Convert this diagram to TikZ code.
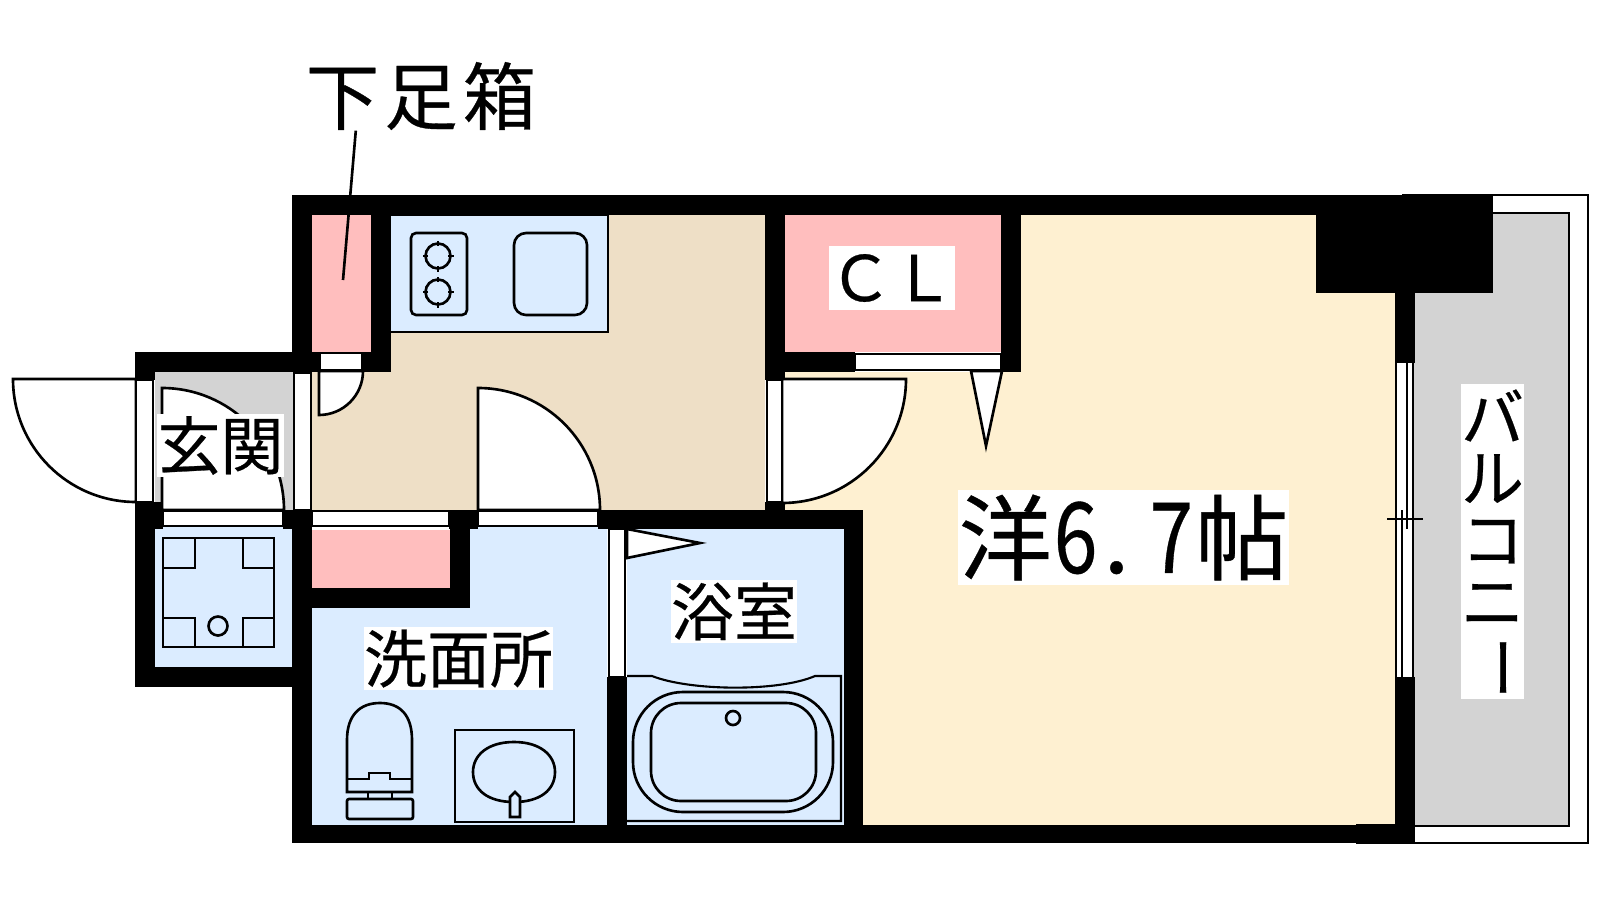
\documentclass[tikz,border=0pt]{standalone}
\usepackage{fontspec}
\usepackage{graphicx}
\usetikzlibrary{calc}
\newfontfamily\jpfont[FakeBold=0.4]{Noto Sans CJK JP}
\definecolor{roomblue}{HTML}{DBECFF}
\definecolor{closetpink}{HTML}{FFBEBE}
\definecolor{kitchentan}{HTML}{EEDFC6}
\definecolor{roomcream}{HTML}{FEF0D1}
\definecolor{floorgray}{HTML}{D3D3D3}
\tikzset{
	wallfill/.style={fill=black},
	fixture/.style={draw=black,line width=0.75pt},
	doorleaf/.style={draw=black,fill=white,line width=0.75pt},
	labelbox/.style={fill=white,inner sep=0pt,font=\jpfont\fontsize{17.9}{18}\selectfont}
}

\begin{document}
\begin{tikzpicture}[x=0.01cm,y=-0.01cm]
		\useasboundingbox (0,0) rectangle (1600,900);
		
		% Balcony
		\draw[line width=0.75pt,fill=white] (1403,195) rectangle (1588,843);
		\draw[line width=0.75pt,fill=floorgray] (1400,213) rectangle (1569,826);
		
		% Floors
		\fill[roomcream] (785,372) -- (1021,372) -- (1021,214) -- (1395,214) -- (1395,825) -- (863,825) -- (863,510) -- (785,510) -- cycle;
		\fill[kitchentan] (312,372) -- (391,372) -- (391,214) -- (765,214) -- (765,510) -- (312,510) -- cycle;
		\fill[floorgray] (155,372) rectangle (294,510);
		\fill[roomblue] (155,527) rectangle (292,667);
		\fill[roomblue] (312,608) -- (470,608) -- (470,527) -- (607,527) -- (607,825) -- (312,825) -- cycle;
		\fill[roomblue] (627,529) rectangle (844,825);
		\fill[closetpink] (312,214) rectangle (371,352);
		\fill[closetpink] (785,214) rectangle (1001,352);
		\fill[closetpink] (312,530) rectangle (450,588);
		
		% Kitchen counter
		\draw[fixture,fill=roomblue] (391,215) -- (608,215) -- (608,332) -- (391,332);
		\draw[fixture,rounded corners=0.05cm] (411,233) rectangle (467,315);
		\draw[fixture,rounded corners=0.12cm] (514,233) rectangle (587,315);
		\foreach \cy in {256,292}{
			\draw[fixture] (438,\cy) circle (12.5);
			\foreach \ang in {0,90,180,270}
				\draw[fixture] ($(438,\cy)+(\ang:10)$) -- ($(438,\cy)+(\ang:15.5)$);
		}
		
		% Washer pan
		\draw[fixture] (163,538) rectangle (274,647);
		\draw[fixture] (163,568) -| (195,538);
		\draw[fixture] (243,538) |- (274,568);
		\draw[fixture] (163,618) -| (195,647);
		\draw[fixture] (243,647) |- (274,618);
		\draw[fixture] (218,626) circle (9.5);
		
		% Toilet
		\draw[fixture] (347,792) -- (347,740) .. controls (347,715) and (360,703) .. (380,703) .. controls (400,703) and (412,715) .. (412,740) -- (412,792) -- cycle;
		\draw[fixture] (347,779) -- (369,779) -- (369,773) -- (390,773) -- (390,779) -- (412,779);
		\draw[fixture] (368,792) -- (368,799);
		\draw[fixture] (392,792) -- (392,799);
		\draw[fixture,rounded corners=0.02cm] (347,799) rectangle (413,819);
		
		% Wash basin
		\draw[fixture] (455,730) rectangle (574,822);
		\draw[fixture] (514,742) .. controls (540,742) and (555,755) .. (555,772) .. controls (555,790) and (540,802) .. (514,802) .. controls (488,802) and (473,790) .. (473,772) .. controls (473,755) and (488,742) .. (514,742) -- cycle;
		\draw[fixture,fill=roomblue] (510,817) -- (510,797) -- (515,792) -- (520,797) -- (520,817) -- cycle;
		
		% Bath tub
		\draw[line width=0.6pt] (627,676) -- (652,676) .. controls (690,691) and (778,692) .. (815,676) -- (841,676) -- (841,821) -- (627,821);
		\draw[fixture,rounded corners=0.5cm] (633,692) rectangle (833,812);
		\draw[fixture,rounded corners=0.3cm] (651,703) rectangle (816,801);
		\draw[fixture] (733,718) circle (7);
		
		% Doors
		\draw[doorleaf] (136,379) -- (13,379) arc (180:90:123) -- cycle;
		\draw[doorleaf] (162,510) -- (162,388) arc (-90:0:122) -- cycle;
		\draw[doorleaf] (478,510) -- (478,388) arc (-90:0:122) -- cycle;
		\draw[doorleaf] (782,379) -- (906,379) arc (0:90:124) -- cycle;
		\draw[doorleaf] (319,371) -- (319,415) arc (90:0:44) -- cycle;
		\draw[doorleaf] (627,529) -- (700,543) -- (627,558) -- cycle;
		\draw[doorleaf] (971,371) -- (986,446) -- (1002,371) -- cycle;
		
		% Walls
		\fill[wallfill] (292,195) rectangle (1493,215);
		\fill[wallfill] (292,195) rectangle (312,372);
		\fill[wallfill] (371,214) rectangle (391,372);
		\fill[wallfill] (135,352) rectangle (320,372);
		\fill[wallfill] (362,352) rectangle (391,372);
		\fill[wallfill] (135,352) rectangle (155,380);
		\fill[wallfill] (135,502) rectangle (155,687);
		\fill[wallfill] (135,502) rectangle (163,529);
		\fill[wallfill] (135,667) rectangle (292,687);
		\fill[wallfill] (283,510) rectangle (312,529);
		\fill[wallfill] (292,529) rectangle (312,843);
		\fill[wallfill] (292,825) rectangle (1415,843);
		\fill[wallfill] (1356,824) rectangle (1415,844);
		\fill[wallfill] (449,510) rectangle (478,529);
		\fill[wallfill] (450,510) rectangle (470,608);
		\fill[wallfill] (312,588) rectangle (470,608);
		\fill[wallfill] (598,510) rectangle (863,529);
		\fill[wallfill] (607,677) rectangle (627,825);
		\fill[wallfill] (844,510) rectangle (863,825);
		\fill[wallfill] (765,214) rectangle (785,380);
		\fill[wallfill] (765,502) rectangle (785,510);
		\fill[wallfill] (785,352) rectangle (855,372);
		\fill[wallfill] (1001,195) rectangle (1021,372);
		\fill[wallfill] (1316,195) rectangle (1493,293);
		\fill[wallfill] (1395,293) rectangle (1415,363);
		\fill[wallfill] (1395,677) rectangle (1415,843);
		
		% Door strips
		\draw[doorleaf] (136,380) rectangle (153,502);
		\draw[doorleaf] (294,373) rectangle (311,510);
		\draw[doorleaf] (767,380) rectangle (782,502);
		\draw[doorleaf] (320,353) rectangle (362,370);
		\draw[doorleaf] (855,354) rectangle (1001,370);
		\draw[doorleaf] (163,511) rectangle (283,526);
		\draw[doorleaf] (312,511) rectangle (449,526);
		\draw[doorleaf] (478,511) rectangle (598,526);
		\draw[doorleaf] (609,529) rectangle (625,677);
		
		% Window
		\fill[white] (1396,363) rectangle (1413,677);
		\draw[fixture] (1396,363) -- (1396,677);
		\draw[fixture] (1413,363) -- (1413,677);
		\draw[fixture] (1407,363) -- (1407,529);
		\draw[fixture] (1402,510) -- (1402,677);
		\draw[fixture] (1387,519) -- (1423,519);
		
		% Labels
		\node[font=\jpfont\fontsize{20.9}{21}\selectfont,inner sep=0pt] (shoelabel) at (421,96) {下\hspace{0.05cm}足\hspace{0.05cm}箱};
		\coordinate (shoeend) at (343,280);
		\draw[line width=0.75pt] (shoelabel.208) -- (shoeend);
		\node[labelbox,minimum width=1.26cm,minimum height=0.63cm] (cllabel) at (892,278) {ＣＬ};
		\node[labelbox,minimum width=1.27cm,minimum height=0.63cm] (entrylabel) at (220.5,445.5) {玄関};
		\node[labelbox,minimum width=1.89cm,minimum height=0.63cm] (washlabel) at (458.5,658.5) {洗面所};
		\node[labelbox,minimum width=1.26cm,minimum height=0.63cm] (bathlabel) at (734,611.5) {浴室};
		\node[labelbox,minimum width=3.31cm,minimum height=0.95cm,font=\jpfont\fontsize{26.5}{27}\selectfont] (roomlabel) at (1123.5,537.5) {洋\hspace{0.02cm}\scalebox{.8}[1]{\fontsize{28}{28}\selectfont 6}\hspace{0.06cm}.\hspace{0.2cm}\scalebox{.8}[1]{\fontsize{28}{28}\selectfont 7}\hspace{0.02cm}帖};
		\node[labelbox,minimum width=0.63cm,minimum height=3.15cm] (balconybox) at (1492.5,541.5) {};
		\foreach \ch [count=\i] in {バ,ル,コ,ニ}
			\node[labelbox,fill=none] (balcony\i) at (1492.5,352.5+63*\i) {\ch};
		\node[labelbox,fill=none,rotate=-90] (balcony5) at (1492.5,667.5) {ー};
		
	\end{tikzpicture}
\end{document}
